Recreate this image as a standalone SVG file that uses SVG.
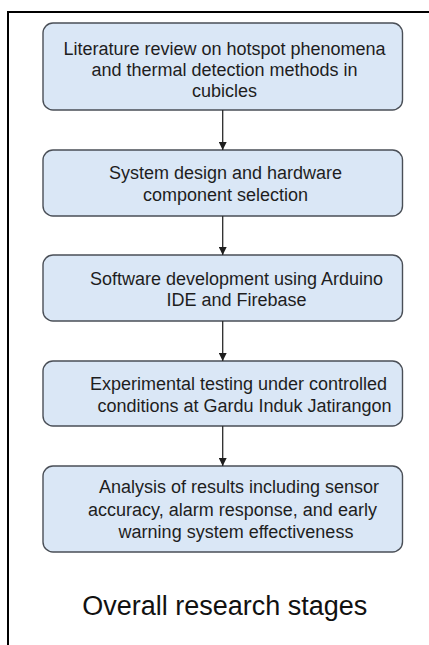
<svg xmlns="http://www.w3.org/2000/svg" width="429" height="645" viewBox="0 0 429 645">
<defs>
<style>
.box{fill:#dae7f6;stroke:#4a4f57;stroke-width:1.4}
.t{font-family:"Liberation Sans",Arial,sans-serif;font-size:18px;fill:#1e1e1e;text-anchor:middle}
.cap{font-family:"Liberation Sans",Arial,sans-serif;font-size:27px;fill:#111;text-anchor:middle}
.conn{stroke:#2a2a2a;stroke-width:1.3;fill:none}
.frame{stroke:#000;stroke-width:2;fill:none}
</style>
<marker id="ah" viewBox="0 0 10 10" refX="10" refY="5" markerWidth="8" markerHeight="8" markerUnits="userSpaceOnUse" orient="auto">
<path d="M0,0 L10,5 L0,10 Z" fill="#1e1e1e"/>
</marker>
</defs>
<rect width="429" height="645" fill="#fff"/>
<path class="frame" d="M8,645 V12 H429"/>
<g id="node1">
<rect class="box" x="43" y="23" width="359.5" height="87" rx="10"/>
<text class="t" x="224.5" y="55">Literature review on hotspot phenomena</text>
<text class="t" x="224.5" y="76">and thermal detection methods in</text>
<text class="t" x="224.5" y="97">cubicles</text>
</g>
<g id="node2">
<rect class="box" x="43" y="150" width="359.5" height="66" rx="10"/>
<text class="t" x="225.5" y="179">System design and hardware</text>
<text class="t" x="225.5" y="201">component selection</text>
</g>
<g id="node3">
<rect class="box" x="43" y="255" width="359.5" height="66" rx="10"/>
<text class="t" x="236.5" y="285">Software development using Arduino</text>
<text class="t" x="236.5" y="306">IDE and Firebase</text>
</g>
<g id="node4">
<rect class="box" x="43" y="361" width="359.5" height="65" rx="10"/>
<text class="t" x="238.5" y="390">Experimental testing under controlled</text>
<text class="t" x="244.5" y="412">conditions at Gardu Induk Jatirangon</text>
</g>
<g id="node5">
<rect class="box" x="43" y="466" width="359.5" height="86" rx="10"/>
<text class="t" x="239" y="493">Analysis of results including sensor</text>
<text class="t" x="232.5" y="516">accuracy, alarm response, and early</text>
<text class="t" x="236" y="538">warning system effectiveness</text>
</g>
<g id="connectors">
<line class="conn" x1="222.7" y1="110" x2="222.7" y2="150" marker-end="url(#ah)"/>
<line class="conn" x1="222.7" y1="216" x2="222.7" y2="255" marker-end="url(#ah)"/>
<line class="conn" x1="222.7" y1="321" x2="222.7" y2="361" marker-end="url(#ah)"/>
<line class="conn" x1="222.7" y1="426" x2="222.7" y2="466" marker-end="url(#ah)"/>
</g>
<text id="caption" class="cap" x="224.7" y="615">Overall research stages</text>
</svg>
